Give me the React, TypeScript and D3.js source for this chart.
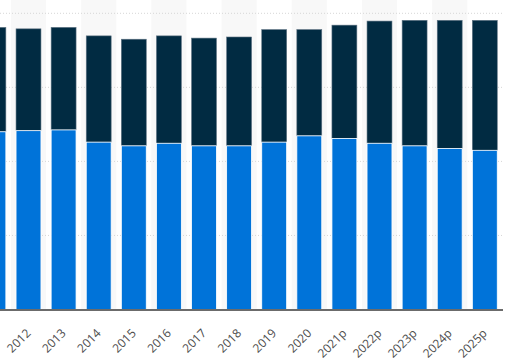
import React from 'react';
import * as d3 from 'd3';

// years shown (first one is cut off at the left edge)
const years = ['2011', '2012', '2013', '2014', '2015', '2016', '2017', '2018', '2019', '2020', '2021p', '2022p', '2023p', '2024p', '2025p'];
// lower (blue) segment
const lower = [240, 241.5, 242.5, 226, 221, 224.5, 221, 221, 226, 234.5, 231, 224.5, 221, 217.5, 215];
// upper (navy) segment
const upper = [141, 137.5, 138.5, 143.5, 144, 145, 145.5, 147, 152, 143.5, 153, 165, 169.5, 173, 175.5];
// the 2011 label lies outside the visible area, so it is not drawn
const labelYears = years.slice(1);
const gridTicks = [0, 100, 200, 300, 400];

const W = 511;
const H = 362;

export default function App() {
  const plotRight = 503;
  const axisY = 310;

  const x = d3.scaleBand<string>()
    .domain(years)
    .range([-24.15, -24.15 + years.length * 35.1])
    .padding(0);

  const y = d3.scaleLinear()
    .domain([0, 400])
    .range([309.5, 13.3]);

  const barW = x.bandwidth() * 0.71;

  return (
    <div style={{ position: 'fixed', left: 0, top: 0, width: W, height: H, background: '#fff' }}>
      <svg width={W} height={H} style={{ display: 'block', fontFamily: '"Open Sans", sans-serif' }}>
        {/* alternating column bands */}
        {years.map((yr, i) => i % 2 === 1 ? (
          <rect key={'band' + yr} x={x(yr)} y={0} width={x.bandwidth()} height={axisY} fill="#f8f8f8" />
        ) : null)}

        {/* gridlines */}
        {gridTicks.slice(1).map(t => (
          <line key={'g' + t} x1={0} x2={plotRight} y1={y(t)} y2={y(t)}
            stroke="#d6d6d6" strokeWidth={1} strokeDasharray="1,2" />
        ))}

        {/* stacked bars */}
        {years.map((yr, i) => {
          const cx = (x(yr) as number) + x.bandwidth() / 2;
          const x0 = cx - barW / 2;
          const bTop = y(lower[i]);
          const tTop = y(lower[i] + upper[i]);
          return (
            <g key={'bar' + yr}>
              <rect x={x0} y={tTop} width={barW} height={bTop - tTop}
                fill="#012b42" stroke="#5f7383" strokeWidth={0.6} />
              <rect x={x0} y={bTop} width={barW} height={y(0) - bTop}
                fill="#0073d9" stroke="#ffffff" strokeWidth={0.8} />
            </g>
          );
        })}

        {/* axis line */}
        <line x1={0} x2={plotRight} y1={axisY} y2={axisY} stroke="#6b6b6b" strokeWidth={2} />

        {/* rotated labels */}
        {labelYears.map(yr => {
          const cx = (x(yr) as number) + x.bandwidth() / 2 + 3;
          return (
            <text key={'l' + yr} x={cx} y={334} transform={`rotate(-45, ${cx}, 334)`}
              textAnchor="end" fontSize={12} fill="#4d4d4d">{yr}</text>
          );
        })}
      </svg>
    </div>
  );
}
